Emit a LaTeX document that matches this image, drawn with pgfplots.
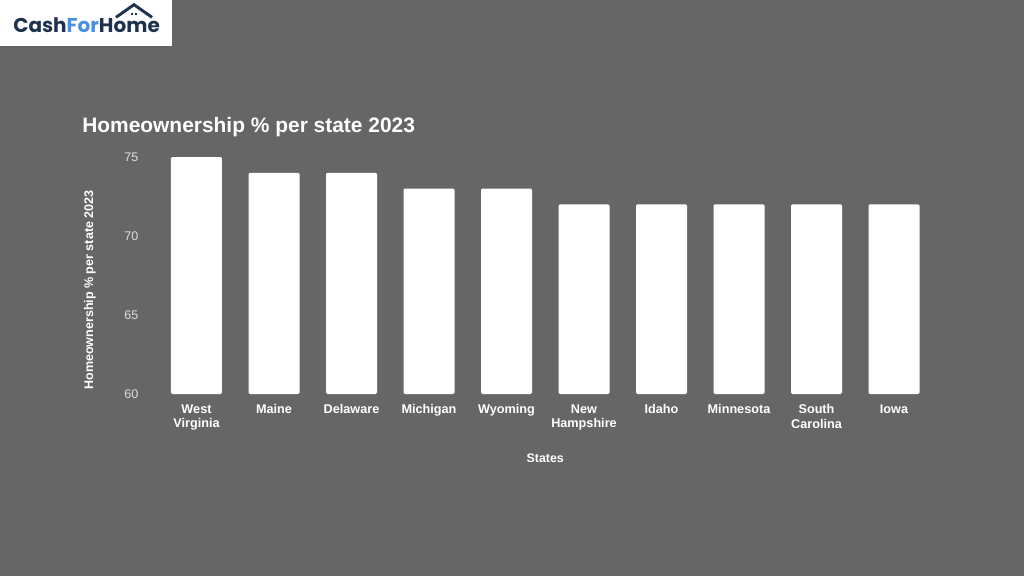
\documentclass[border=0pt]{standalone}
\usepackage{pgfplots}
\pgfplotsset{compat=1.18}
\usepackage{fontspec}
\setmainfont{Liberation Sans}
\newfontfamily\logofont{Poppins}
\definecolor{bg}{HTML}{666666}
\definecolor{ticklab}{HTML}{DDDDDD}
\definecolor{navy}{HTML}{1E3250}
\definecolor{logoblue}{HTML}{4A90E2}
\begin{document}
\begin{tikzpicture}[x=1pt,y=1pt]
\fill[bg] (0,0) rectangle (768,432);
\path[use as bounding box] (0,0) rectangle (768,432);
% logo
\fill[white] (0,432) rectangle (129,397.5);
\node[anchor=base west, inner sep=0pt, font=\logofont\bfseries\fontsize{15}{18}\selectfont] at (9.75,407.5)
  {\textcolor{navy}{Cash}\textcolor{logoblue}{For}\textcolor{navy}{Home}};
\draw[navy, line width=2.2pt, line join=miter] (87,419) -- (100.5,428.5) -- (114,419);
\fill[navy] (98.4,420.8) rectangle (99.8,422.2);
\fill[navy] (101,420.8) rectangle (102.4,422.2);
% title
\node[anchor=west, inner sep=0pt, text=white, font=\bfseries\fontsize{15.7}{18}\selectfont] at (61.5,337) {Homeownership \% per state 2023};
% y label
\node[rotate=90, inner sep=0pt, text=white, font=\bfseries\fontsize{9.4}{11}\selectfont] at (67.5,214.5) {Homeownership \% per state 2023};
\begin{axis}[
  at={(118.31pt,136.5pt)}, anchor=south west,
  scale only axis, width=581.25pt, height=177.75pt,
  xmin=-0.5, xmax=9.5, ymin=60, ymax=75,
  axis line style={draw=none},
  major tick style={draw=none},
  ybar, bar width=38.25pt,
  xtick={0,...,9},
  xticklabels={West\\Virginia, Maine, Delaware, Michigan, Wyoming, New\\Hampshire, Idaho, Minnesota, South\\Carolina, Iowa},
  xticklabel style={align=center, text=white, font=\bfseries\fontsize{9.5}{11}\selectfont, yshift=0pt},
  ytick={60,65,70,75},
  yticklabel style={text=ticklab, font=\fontsize{9.4}{11}\selectfont, xshift=-11pt},
  /pgf/number format/assume math mode=true,
  xlabel={States},
  xlabel style={text=white, font=\bfseries\fontsize{9.3}{11}\selectfont, yshift=-11pt},
]
\addplot[fill=white, draw=none, rounded corners=1pt] coordinates {
(0,75) (1,74) (2,74) (3,73) (4,73) (5,72) (6,72) (7,72) (8,72) (9,72)};
\end{axis}
\end{tikzpicture}
\end{document}
